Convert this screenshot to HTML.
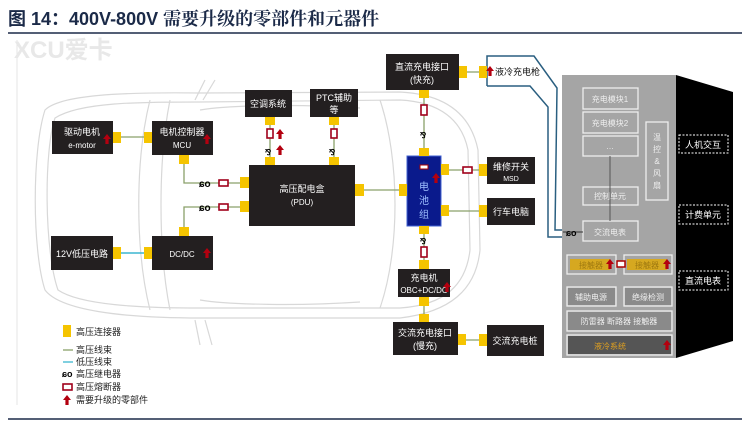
<!DOCTYPE html>
<html><head><meta charset="utf-8"><style>
html,body{margin:0;padding:0;background:#fff;width:748px;height:424px;overflow:hidden}
svg{display:block}
text{font-family:"Liberation Sans","Noto Sans CJK SC",sans-serif}
</style></head><body>
<svg width="748" height="424" viewBox="0 0 748 424" xmlns="http://www.w3.org/2000/svg">
<defs>
<g id="arr"><path d="M0,-5 L4,0 L1.6,0 L1.6,5 L-1.6,5 L-1.6,0 L-4,0 Z" fill="#b3000f"/></g>
</defs>
<!-- title -->
<text x="8" y="25" font-size="18" font-weight="bold" fill="#1b2a48">图 14：400V-800V <tspan style="font-family:'Noto Serif CJK SC',serif">需要升级的零部件和元器件</tspan></text>
<line x1="8" y1="33" x2="742" y2="33" stroke="#1b2a48" stroke-width="1.5"/>
<line x1="8" y1="419" x2="742" y2="419" stroke="#1b2a48" stroke-width="1.5"/>
<line x1="17" y1="40" x2="17" y2="405" stroke="#e4e4e4" stroke-width="1"/>
<!-- watermark -->
<text x="14" y="58" font-size="24" font-weight="bold" fill="#e8e8e8">XCU爱卡</text>
<!-- car outline -->
<g fill="none" stroke="#d8d8d8" stroke-width="1.2">
<path d="M45,110 C60,95 120,92 200,93 L400,92 C440,94 470,110 478,150 L480,250 C476,290 450,312 400,318 L200,318 C120,318 60,310 45,290 C32,250 32,150 45,110 Z"/>
<path d="M55,118 C80,102 140,102 200,102 L400,100 C440,102 462,120 468,150 L470,250 C466,285 445,305 400,308 L200,308 C140,308 80,305 58,290 C44,250 44,150 55,118 Z"/>
<path d="M150,100 C135,160 135,250 150,310"/>
<path d="M170,100 C158,160 158,250 170,310"/>
<path d="M380,100 C400,160 400,250 380,308"/>
<path d="M200,110 C230,105 300,104 360,108"/>
<path d="M200,300 C230,305 300,306 360,302"/>
<path d="M205,80 L195,100 M215,80 L203,100"/>
<path d="M195,320 L200,345 M205,320 L212,345"/>
</g>
<!-- wires -->
<g stroke="#8aa06a" stroke-width="1.3" fill="none">
<line x1="117" y1="137" x2="148" y2="137"/>
<polyline points="184,160 184,183 243,183"/>
<polyline points="184,231 184,207 243,207"/>
<line x1="270" y1="120" x2="270" y2="160"/>
<line x1="334" y1="120" x2="334" y2="160"/>
<line x1="359" y1="190" x2="403" y2="190"/>
<line x1="424" y1="95" x2="424" y2="151"/>
<line x1="445" y1="170" x2="482" y2="170"/>
<line x1="445" y1="211" x2="482" y2="211"/>
<line x1="424" y1="231" x2="424" y2="265"/>
<line x1="424" y1="302" x2="424" y2="318"/>
<line x1="462" y1="340" x2="482" y2="340"/>
<line x1="464" y1="72" x2="482" y2="72"/>
</g>
<line x1="117" y1="253" x2="148" y2="253" stroke="#3cb6d0" stroke-width="1.6"/>
<!-- gun pipe -->
<g stroke="#2a5f80" stroke-width="1.5" fill="none">
<polyline points="487,86 487,56 534,56 557,88 555,230 572,230"/>
<polyline points="487,86 530,86 548,107 548,237 572,237"/>
</g>
<!-- cabinet -->
<rect x="562" y="75" width="114" height="283" fill="#a5a5a5"/>
<polygon points="676,75 733,92 733,341 676,358" fill="#000"/>
<g fill="none" stroke="#eee" stroke-width="1.3">
<rect x="583" y="88" width="55" height="21"/>
<rect x="583" y="112" width="55" height="21"/>
<rect x="583" y="136" width="55" height="20"/>
<rect x="583" y="187" width="55" height="18"/>
<rect x="583" y="221" width="55" height="20"/>
<rect x="646" y="122" width="22" height="78"/>
<rect x="567" y="255" width="49" height="19"/>
<rect x="624" y="255" width="48" height="19"/>
<rect x="567" y="287" width="49" height="19"/>
<rect x="624" y="287" width="48" height="19"/>
<rect x="567" y="311" width="105" height="20"/>
<rect x="567" y="335" width="105" height="20"/>
</g>
<line x1="610" y1="156" x2="610" y2="221" stroke="#555" stroke-width="1"/>
<line x1="563" y1="232" x2="583" y2="232" stroke="#333" stroke-width="1"/>
<g fill="#8a8a8a"><rect x="568" y="288" width="47" height="17"/><rect x="625" y="288" width="46" height="17"/><rect x="568" y="312" width="103" height="18"/></g>
<rect x="568" y="336" width="103" height="18" fill="#555"/>
<rect x="570" y="259" width="40" height="11" fill="#d6a820"/>
<rect x="627" y="259" width="40" height="11" fill="#d6a820"/>
<g font-size="8" fill="#eee" text-anchor="middle">
<text x="610" y="102">充电模块1</text>
<text x="610" y="126">充电模块2</text>
<text x="610" y="149">…</text>
<text x="610" y="199">控制单元</text>
<text x="610" y="235">交流电表</text>
<text x="591" y="268" fill="#a07a10">接触器</text>
<text x="647" y="268" fill="#a07a10">接触器</text>
<text x="591" y="300">辅助电源</text>
<text x="648" y="300">绝缘检测</text>
<text x="619" y="324">防雷器 断路器 接触器</text>
<text x="610" y="349" fill="#e0a020">液冷系统</text>
<text x="657" y="140">温</text><text x="657" y="152">控</text><text x="657" y="164">&amp;</text><text x="657" y="176">风</text><text x="657" y="188">扇</text>
</g>
<g fill="none" stroke="#fff" stroke-width="1" stroke-dasharray="2,1.5">
<rect x="679" y="135" width="49" height="18"/>
<rect x="679" y="205" width="49" height="19"/>
<rect x="679" y="271" width="49" height="19"/>
</g>
<g font-size="9" fill="#fff" text-anchor="middle">
<text x="703" y="148">人机交互</text>
<text x="703" y="218">计费单元</text>
<text x="703" y="284">直流电表</text>
</g>
<use href="#arr" x="610" y="264"/><use href="#arr" x="667" y="264"/><use href="#arr" x="667" y="345"/>
<rect x="617" y="261" width="8" height="6" fill="#fff" stroke="#a00" stroke-width="1.5"/>
<!-- boxes -->
<g fill="#231f20">
<rect x="52" y="121" width="61" height="33"/>
<rect x="152" y="121" width="61" height="34"/>
<rect x="245" y="90" width="47" height="27"/>
<rect x="310" y="89" width="48" height="28"/>
<rect x="249" y="165" width="106" height="61"/>
<rect x="51" y="236" width="62" height="34"/>
<rect x="152" y="236" width="61" height="34"/>
<rect x="386" y="54" width="73" height="36"/>
<rect x="487" y="157" width="48" height="27"/>
<rect x="487" y="198" width="48" height="27"/>
<rect x="398" y="269" width="52" height="28"/>
<rect x="393" y="322" width="65" height="33"/>
<rect x="487" y="325" width="57" height="31"/>
</g>
<rect x="407" y="156" width="34" height="70" fill="#0a1a8c" stroke="#4060d0" stroke-width="1"/>
<g font-size="9" fill="#fff" text-anchor="middle">
<text x="82" y="135">驱动电机</text><text x="82" y="148" font-size="8">e-motor</text>
<text x="182" y="135">电机控制器</text><text x="182" y="148" font-size="8">MCU</text>
<text x="268" y="107">空调系统</text>
<text x="334" y="101">PTC辅助</text><text x="334" y="113">等</text>
<text x="302" y="192">高压配电盒</text><text x="302" y="205" font-size="8">(PDU)</text>
<text x="82" y="257">12V低压电路</text>
<text x="182" y="257" font-size="8">DC/DC</text>
<text x="422" y="70">直流充电接口</text><text x="422" y="83">(快充)</text>
<text x="511" y="170">维修开关</text><text x="511" y="181" font-size="7">MSD</text>
<text x="511" y="215">行车电脑</text>
<text x="424" y="281">充电机</text><text x="424" y="293" font-size="8">OBC+DC/DC</text>
<text x="425" y="336">交流充电接口</text><text x="425" y="349">(慢充)</text>
<text x="515" y="344">交流充电桩</text>
</g>
<g font-size="10" fill="#9fc0ff" text-anchor="middle"><text x="424" y="190">电</text><text x="424" y="204">池</text><text x="424" y="218">组</text></g>
<rect x="420" y="165" width="8" height="4" fill="#fff" stroke="#a00"/>
<text x="495" y="75" font-size="9" fill="#111">液冷充电枪</text>
<!-- connectors -->
<g fill="#f5c400">
<rect x="113" y="132" width="8" height="11"/><rect x="144" y="132" width="8" height="11"/>
<rect x="179" y="155" width="10" height="9"/>
<rect x="240" y="177" width="9" height="11"/><rect x="240" y="201" width="9" height="11"/>
<rect x="179" y="227" width="10" height="9"/>
<rect x="265" y="117" width="10" height="8"/><rect x="265" y="157" width="10" height="8"/>
<rect x="329" y="117" width="10" height="8"/><rect x="329" y="157" width="10" height="8"/>
<rect x="355" y="184" width="9" height="12"/><rect x="399" y="184" width="8" height="12"/>
<rect x="419" y="90" width="10" height="8"/><rect x="419" y="148" width="10" height="8"/>
<rect x="441" y="164" width="8" height="11"/><rect x="441" y="205" width="8" height="11"/>
<rect x="479" y="164" width="8" height="12"/><rect x="479" y="205" width="8" height="12"/>
<rect x="419" y="226" width="10" height="8"/><rect x="419" y="260" width="10" height="9"/>
<rect x="419" y="297" width="10" height="9"/><rect x="419" y="314" width="10" height="8"/>
<rect x="458" y="334" width="8" height="11"/><rect x="479" y="334" width="8" height="12"/>
<rect x="459" y="66" width="8" height="12"/><rect x="479" y="66" width="8" height="12"/>
<rect x="113" y="247" width="8" height="12"/><rect x="144" y="247" width="8" height="12"/>
</g>
<!-- fuses -->
<g fill="#fff" stroke="#a0001a" stroke-width="1.6">
<rect x="219" y="180" width="9" height="6"/><rect x="219" y="204" width="9" height="6"/>
<rect x="267" y="129" width="6" height="9"/><rect x="331" y="129" width="6" height="9"/>
<rect x="421" y="105" width="6" height="10"/><rect x="421" y="247" width="6" height="10"/>
<rect x="463" y="167" width="9" height="6"/>
</g>
<!-- relays -->
<g font-size="10" font-weight="bold" fill="#000">
<text x="199" y="187">ɕo</text><text x="199" y="211">ɕo</text>
<text x="265" y="155" font-size="8">⅋</text><text x="329" y="155" font-size="8">⅋</text>
<text x="420" y="138" font-size="8">⅋</text><text x="420" y="244" font-size="8">⅋</text>
<text x="566" y="236" font-size="9">ɕo</text>
</g>
<!-- upgrade arrows -->
<use href="#arr" x="280" y="134"/><use href="#arr" x="280" y="150"/>
<use href="#arr" x="107" y="139"/><use href="#arr" x="207" y="139"/>
<use href="#arr" x="207" y="253"/><use href="#arr" x="436" y="178"/>
<use href="#arr" x="447" y="287"/><use href="#arr" x="490" y="71"/>
<!-- legend -->
<rect x="63" y="325" width="8" height="12" fill="#f5c400"/>
<line x1="63" y1="350" x2="73" y2="350" stroke="#8aa06a" stroke-width="1.3"/>
<line x1="63" y1="362" x2="73" y2="362" stroke="#3cb6d0" stroke-width="1.3"/>
<text x="62" y="377" font-size="9" font-weight="bold">ɕo</text>
<rect x="63" y="384" width="9" height="6" fill="#fff" stroke="#a0001a" stroke-width="1.6"/>
<use href="#arr" x="67" y="400"/>
<g font-size="9" fill="#222">
<text x="76" y="335">高压连接器</text>
<text x="76" y="353">高压线束</text>
<text x="76" y="365">低压线束</text>
<text x="76" y="377">高压继电器</text>
<text x="76" y="390">高压熔断器</text>
<text x="76" y="403">需要升级的零部件</text>
</g>
</svg>
</body></html>
